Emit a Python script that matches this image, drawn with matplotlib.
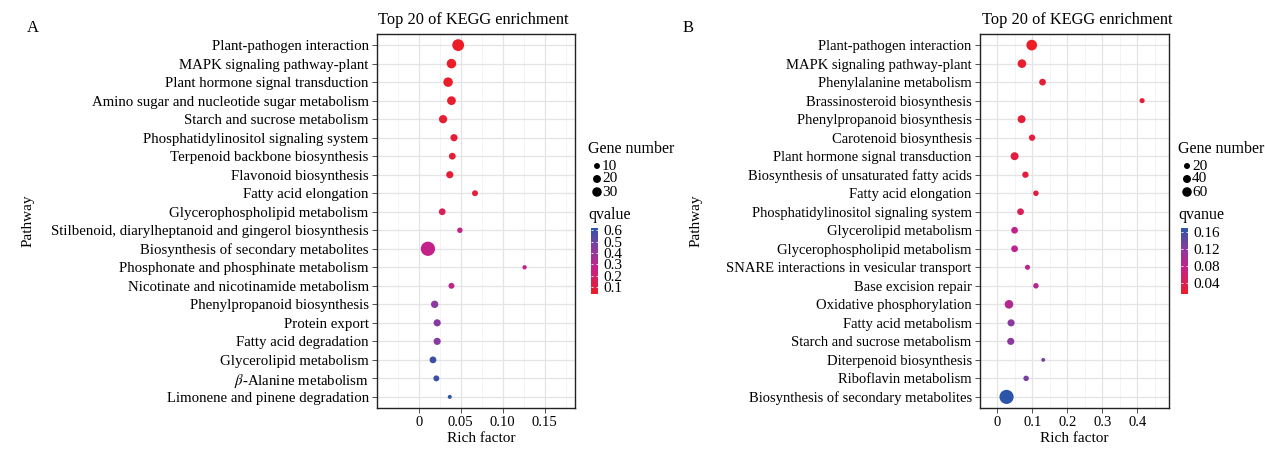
import matplotlib
matplotlib.use("Agg")
import matplotlib.pyplot as plt
from matplotlib.colors import LinearSegmentedColormap, Normalize
from matplotlib.cm import ScalarMappable

plt.rcParams['font.family'] = ['Liberation Serif', 'DejaVu Serif']
plt.rcParams['mathtext.fontset'] = 'stix'

W, H = 1265, 450

# ---- panel A data ----
pathways_a = [
    "Plant-pathogen interaction",
    "MAPK signaling pathway-plant",
    "Plant hormone signal transduction",
    "Amino sugar and nucleotide sugar metabolism",
    "Starch and sucrose metabolism",
    "Phosphatidylinositol signaling system",
    "Terpenoid backbone biosynthesis",
    "Flavonoid biosynthesis",
    "Fatty acid elongation",
    "Glycerophospholipid metabolism",
    "Stilbenoid, diarylheptanoid and gingerol biosynthesis",
    "Biosynthesis of secondary metabolites",
    "Phosphonate and phosphinate metabolism",
    "Nicotinate and nicotinamide metabolism",
    "Phenylpropanoid biosynthesis",
    "Protein export",
    "Fatty acid degradation",
    "Glycerolipid metabolism",
    r"$\beta$-Alanine metabolism",
    "Limonene and pinene degradation",
]
rich_a = [0.047, 0.039, 0.035, 0.039, 0.029, 0.042, 0.040, 0.037, 0.067, 0.028,
          0.049, 0.011, 0.126, 0.039, 0.019, 0.022, 0.022, 0.017, 0.021, 0.037]
genes_a = [48, 30, 30, 25, 22, 16, 14, 16, 10, 14, 8, 71, 4, 10, 17, 16, 16, 14, 10, 3]
qvalue_a = [0.04, 0.05, 0.05, 0.06, 0.07, 0.08, 0.08, 0.08, 0.09, 0.15,
            0.26, 0.27, 0.28, 0.28, 0.43, 0.44, 0.44, 0.58, 0.59, 0.62]
size_breaks_a = [10, 20, 30]
q_ticks_a = [0.1, 0.2, 0.3, 0.4, 0.5, 0.6]
x_ticks_a = [0, 0.05, 0.10, 0.15]
x_labels_a = ["0", "0.05", "0.10", "0.15"]
x_minor_a = [-0.025, 0.025, 0.075, 0.125, 0.175]

# ---- panel B data ----
pathways_b = [
    "Plant-pathogen interaction",
    "MAPK signaling pathway-plant",
    "Phenylalanine metabolism",
    "Brassinosteroid biosynthesis",
    "Phenylpropanoid biosynthesis",
    "Carotenoid biosynthesis",
    "Plant hormone signal transduction",
    "Biosynthesis of unsaturated fatty acids",
    "Fatty acid elongation",
    "Phosphatidylinositol signaling system",
    "Glycerolipid metabolism",
    "Glycerophospholipid metabolism",
    "SNARE interactions in vesicular transport",
    "Base excision repair",
    "Oxidative phosphorylation",
    "Fatty acid metabolism",
    "Starch and sucrose metabolism",
    "Diterpenoid biosynthesis",
    "Riboflavin metabolism",
    "Biosynthesis of secondary metabolites",
]
rich_b = [0.098, 0.070, 0.129, 0.414, 0.069, 0.099, 0.049, 0.080, 0.110, 0.066,
          0.049, 0.049, 0.086, 0.110, 0.033, 0.039, 0.038, 0.131, 0.082, 0.026]
genes_b = [77, 48, 27, 13, 40, 23, 40, 23, 16, 27, 27, 27, 13, 16, 48, 31, 31, 5, 16, 140]
qvalue_b = [0.013, 0.02, 0.022, 0.025, 0.025, 0.028, 0.03, 0.03, 0.032, 0.045,
            0.08, 0.08, 0.085, 0.09, 0.09, 0.12, 0.12, 0.13, 0.13, 0.17]
size_breaks_b = [20, 40, 60]
q_ticks_b = [0.04, 0.08, 0.12, 0.16]
x_ticks_b = [0, 0.1, 0.2, 0.3, 0.4]
x_labels_b = ["0", "0.1", "0.2", "0.3", "0.4"]
x_minor_b = [-0.05, 0.05, 0.15, 0.25, 0.35, 0.45]

cmap = LinearSegmentedColormap.from_list(
    "rb", [(0, "#EC1D25"), (0.4, "#C4228A"), (0.7, "#863C9F"), (1, "#2B55A9")])


def box(l, t, r, b):
    return [l / W, 1 - b / H, (r - l) / W, (b - t) / H]


def size_a(g):
    return [0.73 * (5.5 + 1.95 * v) for v in g]


def size_b(g):
    return [0.73 * (6 + 0.975 * v) for v in g]


fig = plt.figure(figsize=(W / 100, H / 100), dpi=100)
over = fig.add_axes([0, 0, 1, 1], facecolor="none")
over.set_xlim(0, W)
over.set_ylim(H, 0)
over.axis("off")


def panel(rect, names, rich, genes, q, sizefn, xlim, xt, xl, xm, ysize):
    ax = fig.add_axes(rect)
    n = len(names)
    ys = list(range(1, n + 1))
    norm = Normalize(min(q), max(q))
    ax.scatter(rich, ys, s=sizefn(genes), c=q, cmap=cmap, norm=norm,
               linewidths=0, zorder=3)
    ax.set_xlim(*xlim)
    ax.set_ylim(n + 0.6, 0.4)
    ax.set_yticks(ys)
    ax.set_yticklabels(names, fontsize=ysize)
    ax.set_xticks(xt)
    ax.set_xticklabels(xl, fontsize=10.5)
    ax.set_xticks(xm, minor=True)
    ax.tick_params(axis="both", which="major", length=3.5, width=0.6,
                   color="#333333", pad=2.5)
    ax.tick_params(axis="x", which="minor", length=0)
    ax.grid(True, which="major", color="#E4E4E4", lw=0.9, zorder=0)
    ax.grid(True, which="minor", axis="x", color="#F0F0F0", lw=0.5, zorder=0)
    for sp in ax.spines.values():
        sp.set_color("#222222")
        sp.set_linewidth(1.0)
    return ax, norm


ax_a, norm_a = panel(box(377, 34, 575, 408), pathways_a, rich_a, genes_a, qvalue_a,
                     size_a, (-0.0496, 0.186), x_ticks_a, x_labels_a, x_minor_a, 10.7)
ax_b, norm_b = panel(box(980, 34, 1169, 408), pathways_b, rich_b, genes_b, qvalue_b,
                     size_b, (-0.049, 0.491), x_ticks_b, x_labels_b, x_minor_b, 10.5)

# titles, axis labels, panel letters
for x0, letter, lx, px, cx in [(377, "A", 33, 28, 481), (981, "B", 688, 696, 1074)]:
    over.text(x0 + 1, 20, "Top 20 of KEGG enrichment", fontsize=11.8, ha="left", va="center")
    over.text(lx, 28, letter, fontsize=12, ha="center", va="center")
    over.text(px, 221, "Pathway", fontsize=11, rotation=90, ha="center", va="center")
    over.text(cx, 439, "Rich factor", fontsize=11, ha="center", va="center")


def legend(x0, breaks, sizefn, title2, norm, ticks, tick_fmt):
    over.text(x0, 149, "Gene number", fontsize=11.5, ha="left", va="center")
    ys = [166, 179, 192]
    over.scatter([x0 + 9] * len(breaks), ys, s=sizefn(breaks), color="black",
                 linewidths=0)
    for y, b in zip(ys, breaks):
        over.text(x0 + 14, y, str(b), fontsize=11, ha="left", va="center")
    over.text(x0, 215, title2, fontsize=11.5, ha="left", va="center")
    cax = fig.add_axes(box(x0 + 3, 228, x0 + 10, 294))
    cb = fig.colorbar(ScalarMappable(norm=norm, cmap=cmap), cax=cax, ticks=ticks)
    cb.outline.set_visible(False)
    cb.ax.set_yticklabels([tick_fmt.format(t) for t in ticks])
    cax.tick_params(direction="in", color="white", length=1.5, width=0.6,
                    left=True, right=True, labelsize=11, pad=4)


legend(588, size_breaks_a, size_a, "qvalue", norm_a, q_ticks_a, "{:.1f}")
legend(1178, size_breaks_b, size_b, "qvanue", norm_b, q_ticks_b, "{:.2f}")

fig.savefig("out.png", dpi=100)
